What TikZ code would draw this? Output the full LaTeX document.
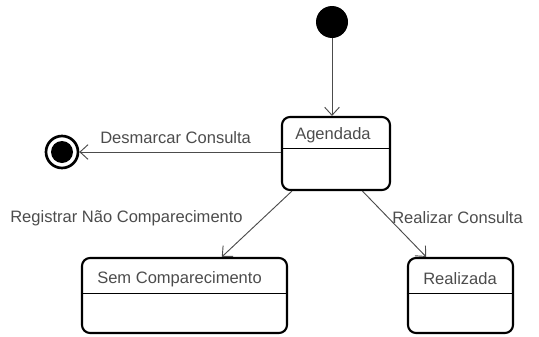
\documentclass[tikz,border=0pt]{standalone}
\usepackage{fontspec}
\setmainfont{Liberation Sans}
\usetikzlibrary{arrows.meta,calc}
\tikzstyle{state}=[draw=black, line width=1.6pt, rounded corners=6pt, inner sep=0pt]
\tikzstyle{divider}=[draw=black, line width=0.8pt]
\tikzstyle{statename}=[anchor=west, inner sep=0pt, text=black!70, font=\fontsize{12.4}{14}\selectfont]
\tikzstyle{trlabel}=[anchor=west, inner sep=0pt, text=black!70, font=\fontsize{12.4}{14}\selectfont]
\tikzstyle{transition}=[-{Straight Barb[length=6pt,width=11pt]}, draw=black!70, line width=0.7pt]

\begin{document}
\begin{tikzpicture}[x=0.75pt, y=-0.75pt]

  % Margins as in the screenshot
  \useasboundingbox (0,0) rectangle (539,336);

  % Pseudo states
  \node[circle, fill=black, minimum size=24pt, inner sep=0pt] at (332,22) (init) {};
  \node[circle, draw=black, line width=2pt, minimum size=24pt, inner sep=0pt] at (62,152) (final) {};
  \node[circle, fill=black, minimum size=16.5pt, inner sep=0pt] at (62,152) (finaldot) {};

  % States
  \node[state, minimum width=81pt, minimum height=54.75pt] at (336,153.5) (agendada) {};
  \node[state, minimum width=153.75pt, minimum height=56.25pt] at (184.5,295.5) (sem) {};
  \node[state, minimum width=78.75pt, minimum height=56.25pt] at (460.5,295.5) (realizada) {};

  \draw[divider] ($(agendada.north west)+(0,33)$) -- ($(agendada.north east)+(0,33)$);
  \draw[divider] ($(sem.north west)+(0,37)$) -- ($(sem.north east)+(0,37)$);
  \draw[divider] ($(realizada.north west)+(0,37)$) -- ($(realizada.north east)+(0,37)$);

  \node[statename] at (295,135) (agendadaname) {Agendada};
  \node[statename] at (97,279) (semname) {Sem Comparecimento};
  \node[statename] at (423,279) (realizadaname) {Realizada};

  % Transitions
  \draw[transition] (init) -- (init |- agendada.north);
  \draw[transition] (agendada.west |- final) -- (final);
  \draw[transition] ($(agendada.south west)!0.1!(agendada.south east)$)
                 -- ($(sem.north west)!0.68!(sem.north east)$);
  \draw[transition] ($(agendada.south west)!0.74!(agendada.south east)$)
                 -- ($(realizada.north west)!0.18!(realizada.north east)$);

  % Labels
  \node[trlabel] at (100,138) (desmarcar) {Desmarcar Consulta};
  \node[trlabel] at (10,218) (registrar) {Registrar Não Comparecimento};
  \node[trlabel] at (392,218) (realizar) {Realizar Consulta};

\end{tikzpicture}
\end{document}
